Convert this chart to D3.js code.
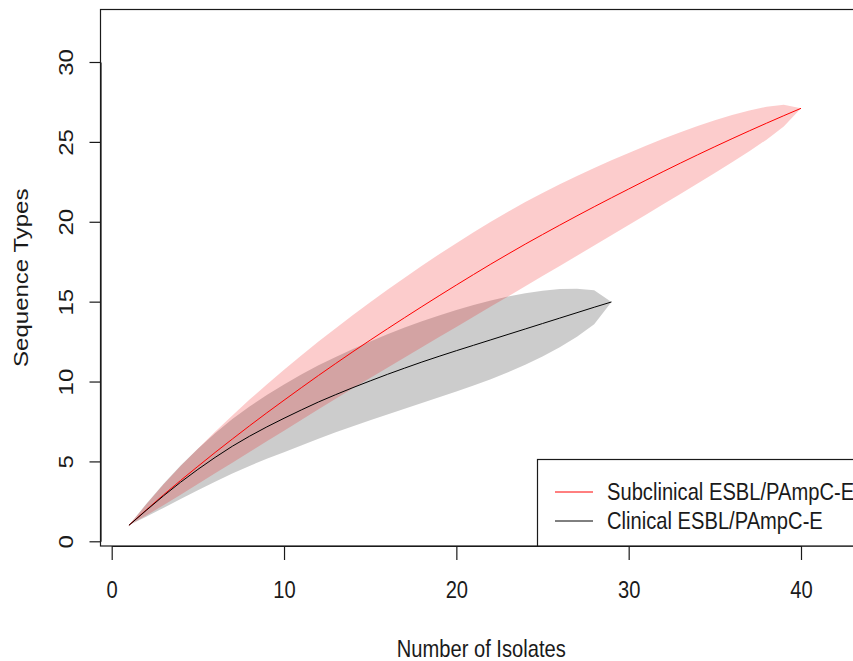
<!DOCTYPE html>
<html>
<head>
<meta charset="utf-8">
<script src="https://cdn.jsdelivr.net/npm/d3@7"></script>
<style>
  body { margin: 0; background: #fff; }
  svg { display: block; }
  text { font-family: "Liberation Sans", Arial, sans-serif; fill: #1a1a1a; }
</style>
</head>
<body>
<svg id="chart" width="853" height="661"></svg>
<script>
// number of isolates sampled
let isolatesSub = d3.range(1, 41)
let isolatesClin = d3.range(1, 30)

// Subclinical ESBL/PAmpC-E: mean sequence types and half-width of the band (2 sd)
let subMean = [1.00, 1.96, 2.90, 3.81, 4.69, 5.56, 6.40, 7.23, 8.04, 8.83,
  9.61, 10.38, 11.13, 11.87, 12.59, 13.30, 14.00, 14.69, 15.37, 16.04,
  16.70, 17.35, 17.98, 18.60, 19.20, 19.79, 20.37, 20.94, 21.50, 22.05,
  22.60, 23.14, 23.67, 24.19, 24.70, 25.20, 25.69, 26.17, 26.64, 27.10]
let subSd = [0, 0.35, 0.65, 0.90, 1.10, 1.30, 1.48, 1.64, 1.78, 1.91,
  2.02, 2.12, 2.21, 2.29, 2.37, 2.44, 2.50, 2.55, 2.59, 2.62,
  2.64, 2.65, 2.65, 2.63, 2.60, 2.56, 2.50, 2.43, 2.35, 2.26,
  2.16, 2.05, 1.93, 1.80, 1.65, 1.48, 1.28, 1.03, 0.68, 0]

// Clinical ESBL/PAmpC-E
let clinMean = [1.00, 1.93, 2.84, 3.70, 4.50, 5.25, 5.95, 6.58, 7.16, 7.70,
  8.22, 8.72, 9.18, 9.62, 10.04, 10.45, 10.84, 11.22, 11.58, 11.93,
  12.27, 12.61, 12.95, 13.29, 13.63, 13.97, 14.31, 14.65, 14.98]
let clinSd = [0, 0.40, 0.75, 1.05, 1.30, 1.52, 1.70, 1.86, 2.00, 2.12,
  2.22, 2.30, 2.36, 2.42, 2.47, 2.51, 2.54, 2.56, 2.56, 2.55,
  2.52, 2.46, 2.37, 2.24, 2.06, 1.82, 1.50, 1.06, 0]

let xTicks = [0, 10, 20, 30, 40]
let yTicks = [0, 5, 10, 15, 20, 25, 30]
let legendLabels = ['Subclinical ESBL/PAmpC-E', 'Clinical ESBL/PAmpC-E']
let legendColors = ['#ff0000', '#000000']

// the original picture is squeezed sideways, so text is squeezed too
let sx = 0.84
let fontSize = 24

let svg = d3.select('#chart')

let xScale = d3.scaleLinear().domain([0, 40]).range([111.7, 801])
let yScale = d3.scaleLinear().domain([0, 30]).range([541.3, 62])

let plotLeft = 100.5, plotTop = 9.5, plotRight = 862, plotBottom = 546

function makeSeries(xs, mean, sd){
  return xs.map(function(x, i){
    return { x: x, y: mean[i], lo: mean[i] - sd[i], hi: mean[i] + sd[i] }
  })
}

let subData = makeSeries(isolatesSub, subMean, subSd)
let clinData = makeSeries(isolatesClin, clinMean, clinSd)

let band = d3.area()
  .x(function(d){ return xScale(d.x) })
  .y0(function(d){ return yScale(d.lo) })
  .y1(function(d){ return yScale(d.hi) })

let line = d3.line()
  .x(function(d){ return xScale(d.x) })
  .y(function(d){ return yScale(d.y) })

svg.append('path').datum(clinData)
  .attr('d', band)
  .attr('fill', 'rgba(0,0,0,0.2)')

svg.append('path').datum(subData)
  .attr('d', band)
  .attr('fill', 'rgba(240,0,0,0.2)')

svg.append('path').datum(subData)
  .attr('d', line)
  .attr('fill', 'none')
  .attr('stroke', '#ff0000')
  .attr('stroke-width', 1)

svg.append('path').datum(clinData)
  .attr('d', line)
  .attr('fill', 'none')
  .attr('stroke', '#000000')
  .attr('stroke-width', 1)

// axes
let xAxis = d3.axisBottom(xScale).tickValues(xTicks).tickSize(14).tickSizeOuter(0).tickFormat(d3.format('d'))
let gx = svg.append('g')
  .attr('transform', 'translate(0,' + plotBottom + ')')
  .call(xAxis)
gx.selectAll('line, path').attr('stroke', '#1a1a1a').attr('stroke-width', 1.2)
gx.selectAll('text').remove()
gx.selectAll('.tick').append('text')
  .attr('text-anchor', 'middle')
  .attr('font-size', fontSize)
  .attr('transform', 'translate(0,52) scale(' + sx + ',1)')
  .text(function(d){ return d })

let yAxis = d3.axisLeft(yScale).tickValues(yTicks).tickSize(11).tickSizeOuter(0)
let gy = svg.append('g')
  .attr('transform', 'translate(' + plotLeft + ',0)')
  .call(yAxis)
gy.selectAll('line, path').attr('stroke', '#1a1a1a').attr('stroke-width', 1.2)
gy.selectAll('text').remove()
gy.selectAll('.tick').append('text')
  .attr('text-anchor', 'middle')
  .attr('font-size', fontSize)
  .attr('transform', 'translate(-28,0) scale(' + sx + ',1) rotate(-90)')
  .text(function(d){ return d })

// plot box
svg.append('rect')
  .attr('x', plotLeft)
  .attr('y', plotTop)
  .attr('width', plotRight - plotLeft)
  .attr('height', plotBottom - plotTop)
  .attr('fill', 'none')
  .attr('stroke', '#1a1a1a')
  .attr('stroke-width', 1.2)

// axis titles
svg.append('text')
  .attr('text-anchor', 'middle')
  .attr('font-size', fontSize)
  .attr('transform', 'translate(' + ((plotLeft + plotRight) / 2) + ',657) scale(' + sx + ',1)')
  .text('Number of Isolates')

svg.append('text')
  .attr('text-anchor', 'middle')
  .attr('font-size', fontSize)
  .attr('transform', 'translate(28,' + ((plotTop + plotBottom) / 2) + ') scale(' + sx + ',1) rotate(-90)')
  .text('Sequence Types')

// legend
let legend = svg.append('g')
legend.append('rect')
  .attr('x', 537.5)
  .attr('y', 459.5)
  .attr('width', plotRight - 537.5)
  .attr('height', plotBottom - 459.5)
  .attr('fill', '#ffffff')
  .attr('stroke', '#1a1a1a')
  .attr('stroke-width', 1.2)

let rows = legend.selectAll('.row')
  .data(legendLabels)
  .enter().append('g')
  .attr('class', 'row')
  .attr('transform', function(d, i){ return 'translate(0,' + (492 + i * 29) + ')' })

rows.append('line')
  .attr('x1', 555).attr('x2', 593)
  .attr('y1', 0).attr('y2', 0)
  .attr('stroke', function(d, i){ return legendColors[i] })
  .attr('stroke-width', 1)

rows.append('text')
  .attr('font-size', fontSize)
  .attr('dy', '0.35em')
  .attr('transform', 'translate(607,0) scale(' + sx + ',1)')
  .text(function(d){ return d })
</script>
</body>
</html>
